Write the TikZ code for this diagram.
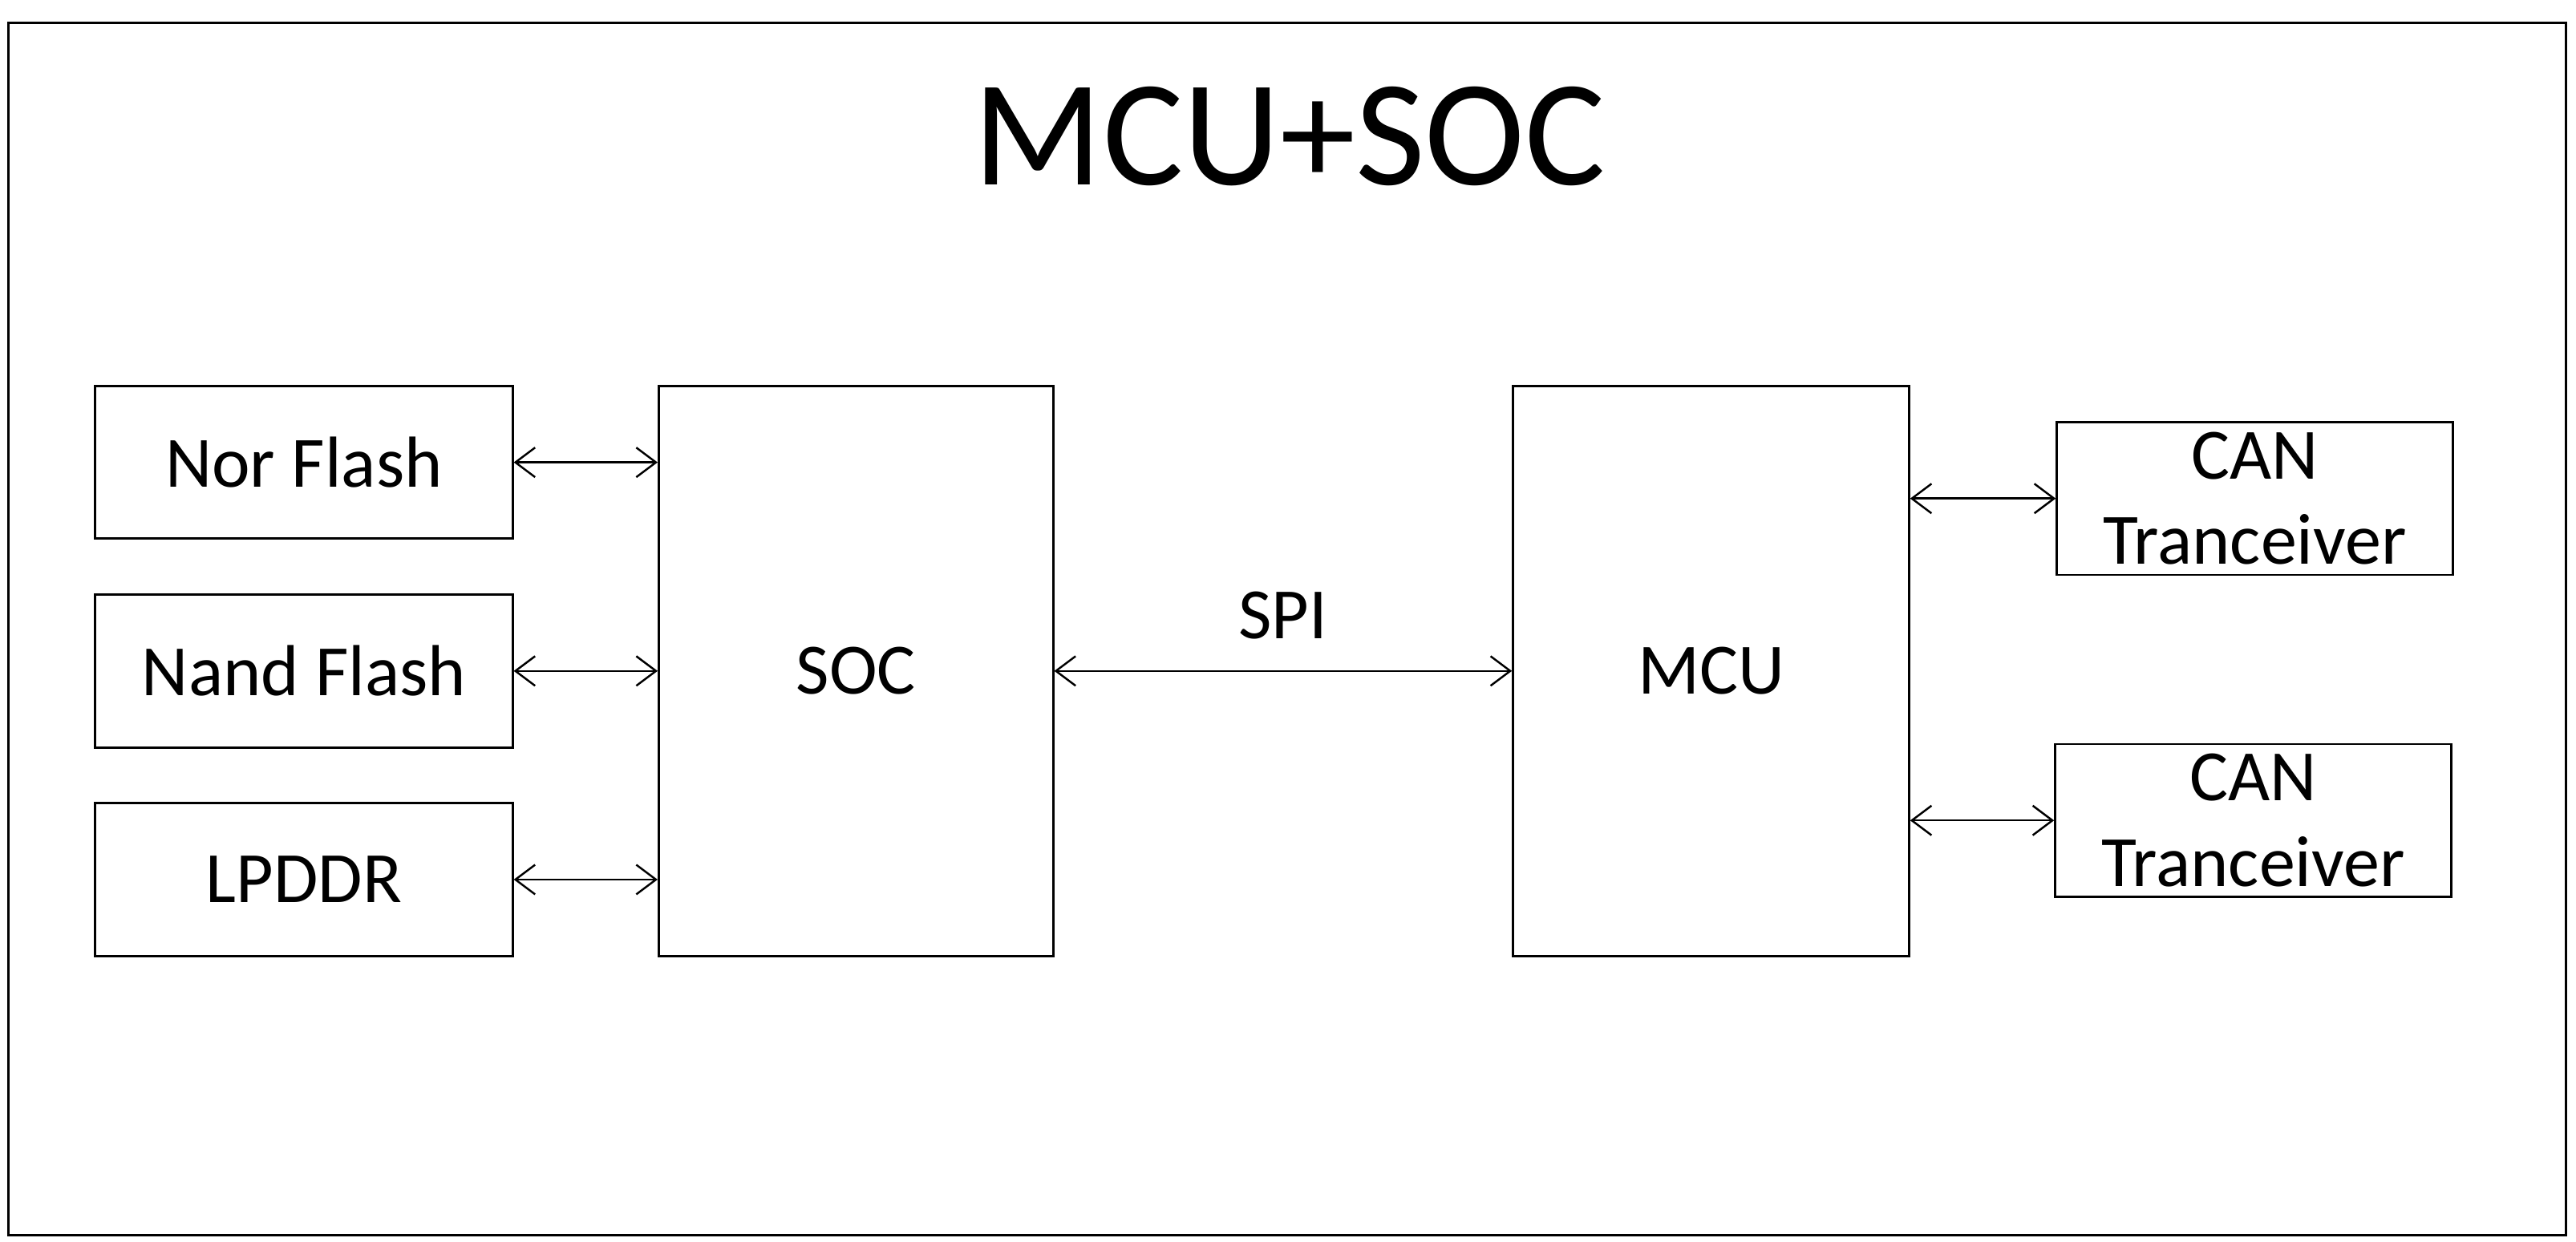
\documentclass[tikz,border=0pt]{standalone}
\usepackage{fontspec}
\setmainfont{Carlito}
\usetikzlibrary{arrows.meta}
\begin{document}
\begin{tikzpicture}[x=0.5pt,y=-0.5pt,
  box/.style={draw,line width=0.7pt,inner sep=0pt,align=center,font=\fontsize{22}{26}\selectfont},
  link/.style={line width=0.6pt,{Straight Barb[length=6pt,width=9pt]}-{Straight Barb[length=6pt,width=9pt]}}]
\useasboundingbox (0,0) rectangle (1568,756);
\draw[line width=0.7pt] (5,14) rectangle (1562,752);
\node[font=\fontsize{46}{50}\selectfont] (title) at (785,83) {MCU+SOC};
\node[box,minimum width=127pt,minimum height=46.5pt] (nor) at (185,281.5) {Nor Flash};
\node[box,minimum width=127pt,minimum height=46.5pt] (nand) at (185,408.5) {Nand Flash};
\node[box,minimum width=127pt,minimum height=46.5pt] (lpddr) at (185,535.5) {LPDDR};
\node[box,minimum width=120pt,minimum height=173.5pt] (soc) at (521,408.5) {SOC};
\node[box,minimum width=120.5pt,minimum height=173.5pt] (mcu) at (1041.5,408.5) {MCU};
\node[box,minimum width=120.5pt,minimum height=46.5pt,font=\fontsize{22}{26}\selectfont] (can1) at (1372.5,303.5) {CAN\\Tranceiver};
\node[box,minimum width=120.5pt,minimum height=46.5pt,font=\fontsize{22}{26}\selectfont] (can2) at (1371.5,499.5) {CAN\\Tranceiver};
\draw[link] (nor.east) -- (nor.east -| soc.west);
\draw[link] (nand.east) -- (nand.east -| soc.west);
\draw[link] (lpddr.east) -- (lpddr.east -| soc.west);
\draw[link] (soc.east) -- node[above=6pt,font=\fontsize{22}{26}\selectfont] (spi) {SPI} (mcu.west);
\draw[link] (mcu.east |- can1.west) -- (can1.west);
\draw[link] (mcu.east |- can2.west) -- (can2.west);
\end{tikzpicture}
\end{document}
